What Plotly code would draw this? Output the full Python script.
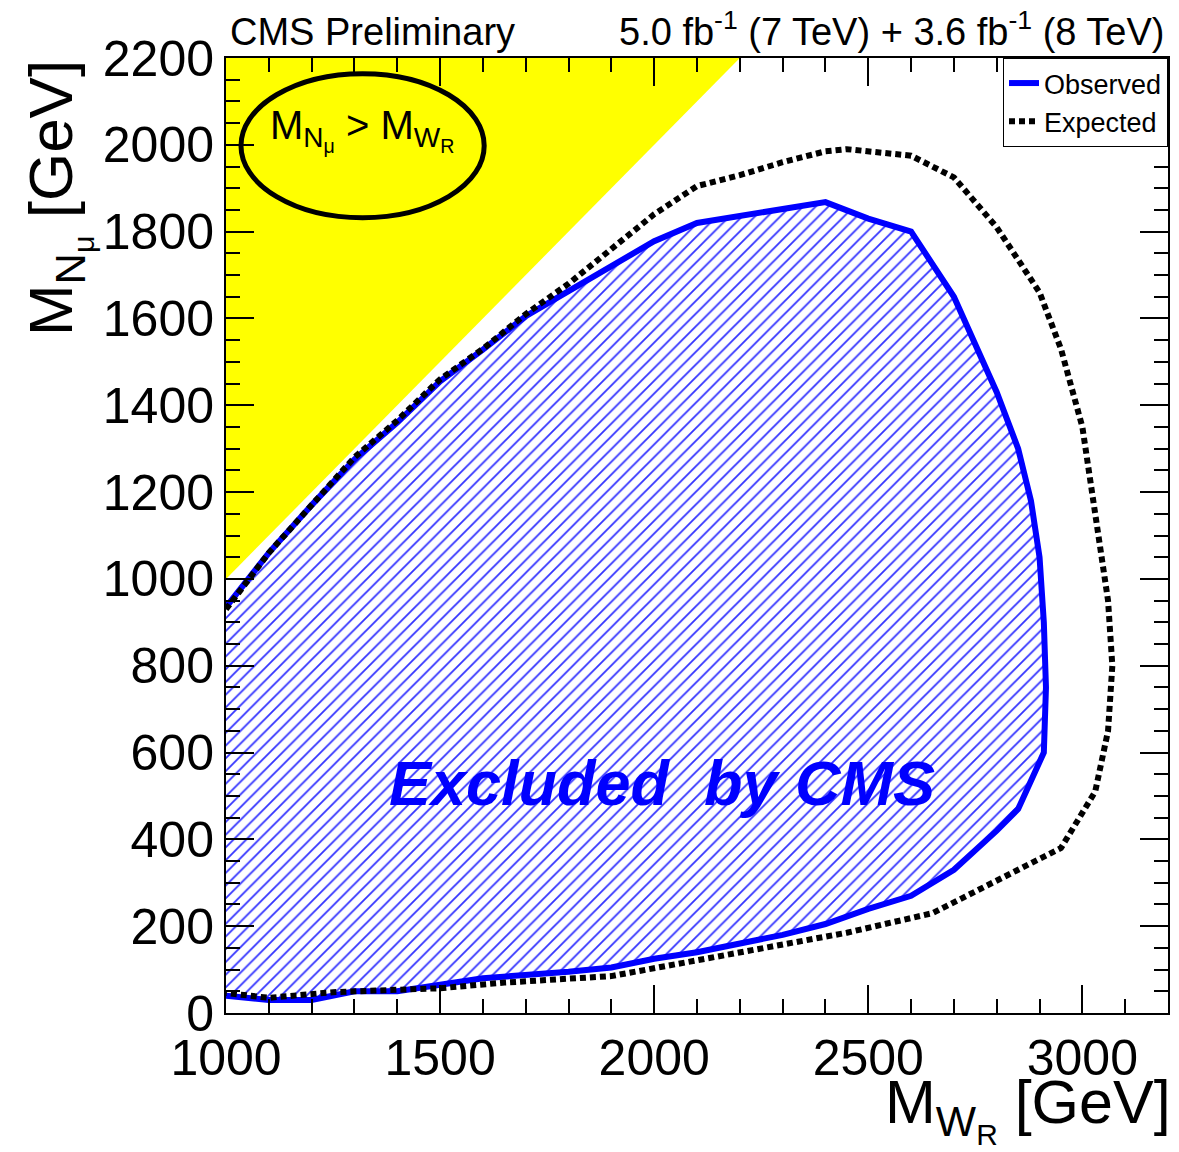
import plotly.graph_objects as go

# Observed exclusion contour (M_WR, M_N) in GeV
obs_x = [1000, 1100, 1200, 1300, 1400, 1500, 1600, 1700, 1800, 1900, 2000, 2100, 2200, 2300, 2400,
         2500, 2600, 2700, 2800, 2850, 2880, 2900, 2910, 2915, 2910, 2850, 2800, 2700, 2600, 2500,
         2400, 2300, 2100, 2000, 1900, 1800, 1600, 1500, 1400, 1300, 1200, 1100, 1000]
obs_y = [935, 1060, 1170, 1275, 1360, 1455, 1528, 1605, 1663, 1720, 1778, 1820, 1835, 1850, 1868,
         1830, 1800, 1650, 1430, 1300, 1180, 1050, 900, 750, 600, 470, 420, 330, 270, 240,
         205, 180, 140, 125, 105, 95, 80, 65, 50, 50, 30, 30, 40]

# Expected exclusion contour
exp_x = [1000, 1100, 1200, 1300, 1400, 1500, 1600, 1700, 1800, 1900, 2000, 2100, 2200, 2300, 2400,
         2450, 2500, 2600, 2700, 2800, 2900, 2950, 3000, 3030, 3060, 3070, 3060, 3030, 2950, 2850,
         2770, 2650, 2450, 2200, 2000, 1900, 1650, 1500, 1250, 1150, 1100, 1000]
exp_y = [930, 1060, 1170, 1280, 1365, 1460, 1530, 1610, 1680, 1760, 1840, 1905, 1930, 1960, 1985,
         1990, 1985, 1975, 1925, 1810, 1660, 1530, 1350, 1150, 950, 800, 650, 510, 380, 330,
         290, 230, 185, 140, 105, 85, 70, 57, 48, 38, 35, 46]

# Kinematically forbidden region M_N > M_WR
region_x = [1000, 2200, 1000]
region_y = [1000, 2200, 2200]

x_range = [1000, 3200]
y_range = [0, 2200]

fig = go.Figure()
fig.add_trace(go.Scatter(x=region_x, y=region_y, fill="toself", fillcolor="#ffff00",
                         mode="lines", line=dict(width=0, color="#ffff00"),
                         showlegend=False, hoverinfo="skip"))
fig.add_trace(go.Scatter(x=obs_x, y=obs_y, fill="toself", mode="lines",
                         line=dict(width=0, color="#0000ff"),
                         fillpattern=dict(shape="/", fgcolor="#3333ff", bgcolor="white",
                                          size=9, solidity=0.2, fillmode="replace"),
                         showlegend=False, hoverinfo="skip"))
fig.add_trace(go.Scatter(x=obs_x, y=obs_y, mode="lines", name="Observed",
                         line=dict(color="#0000ff", width=6)))
fig.add_trace(go.Scatter(x=exp_x, y=exp_y, mode="lines", name="Expected",
                         line=dict(color="black", width=6, dash="6px,4px")))

# Ellipse around the label
fig.add_shape(type="circle", xref="x", yref="y", x0=1035, x1=1603, y0=1832, y1=2164,
              line=dict(color="black", width=5))

font = "Liberation Sans, Arial, Helvetica, sans-serif"

fig.add_annotation(x=1318, y=2035, xref="x", yref="y", showarrow=False,
                   text="M<sub>N<sub>μ</sub></sub> > M<sub>W<sub>R</sub></sub>",
                   font=dict(family=font, size=40, color="black"))
fig.add_annotation(x=2019, y=529, xref="x", yref="y", showarrow=False,
                   text="<b><i>Excluded\u00a0 by CMS</i></b>",
                   font=dict(family=font, size=63, color="#0000ff"))
fig.add_annotation(x=0.002, y=1.003, xref="paper", yref="paper", xanchor="left", yanchor="bottom",
                   showarrow=False, text="CMS Preliminary",
                   font=dict(family=font, size=38, color="black"))
fig.add_annotation(x=0.998, y=1.003, xref="paper", yref="paper", xanchor="right", yanchor="bottom",
                   showarrow=False,
                   text="5.0 fb<sup>-1</sup> (7 TeV) + 3.6 fb<sup>-1</sup> (8 TeV)",
                   font=dict(family=font, size=38, color="black"))
fig.add_annotation(x=1.005, y=-0.055, xref="paper", yref="paper", xanchor="right", yanchor="top",
                   showarrow=False, text="M<sub>W<sub>R</sub></sub> [GeV]",
                   font=dict(family=font, size=61, color="black"))
fig.add_annotation(x=-0.225, y=1.0, xref="paper", yref="paper", xanchor="left", yanchor="top",
                   showarrow=False, textangle=-90, text="M<sub>N<sub>μ</sub></sub> [GeV]",
                   font=dict(family=font, size=62, color="black"))

axis_common = dict(showgrid=False, zeroline=False, showline=True, linecolor="black", linewidth=2,
                   ticks="inside", ticklen=28, tickwidth=1.5, tickcolor="black", mirror="allticks",
                   tickfont=dict(family=font, size=50, color="black"))
fig.update_xaxes(range=x_range, tick0=1000, dtick=500,
                 minor=dict(ticks="inside", ticklen=14, dtick=100, tick0=1000, tickcolor="black",
                            tickwidth=1.5, showgrid=False),
                 **axis_common)
fig.update_yaxes(range=y_range, tick0=0, dtick=200,
                 minor=dict(ticks="inside", ticklen=14, dtick=50, tick0=0, tickcolor="black",
                            tickwidth=1.5, showgrid=False),
                 **axis_common)

fig.update_layout(width=1179, height=1152, autosize=False,
                  margin=dict(l=226, r=9, t=58, b=139),
                  plot_bgcolor="white", paper_bgcolor="white",
                  legend=dict(x=1, y=1, xanchor="right", yanchor="top", bgcolor="white",
                              bordercolor="black", borderwidth=1, itemwidth=30,
                              font=dict(family=font, size=27, color="black"),
                              tracegroupgap=0),
                  font=dict(family=font))

fig.write_html("out.html")
